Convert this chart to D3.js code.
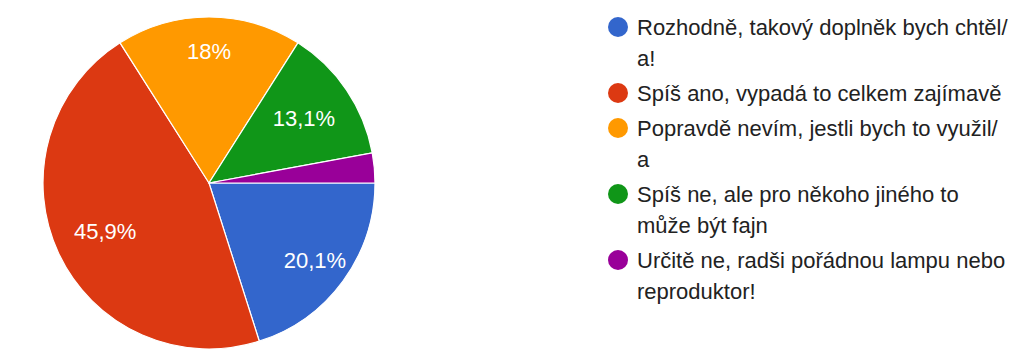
<!DOCTYPE html>
<html>
<head>
<meta charset="utf-8">
<script src="https://cdn.jsdelivr.net/npm/d3@7"></script>
<style>
  html, body { margin: 0; padding: 0; background: #fff; }
  svg { display: block; font-family: "Liberation Sans", Arial, Helvetica, sans-serif; }
</style>
</head>
<body>
<svg id="chart" width="1018" height="352"></svg>
<script>
// Answer options (line breaks follow the legend wrapping)
const categories = [
  "Rozhodně, takový doplněk bych chtěl/\na!",
  "Spíš ano, vypadá to celkem zajímavě",
  "Popravdě nevím, jestli bych to využil/\na",
  "Spíš ne, ale pro někoho jiného to\nmůže být fajn",
  "Určitě ne, radši pořádnou lampu nebo\nreproduktor!"
];
// Share of responses, in percent
const values = [20.1, 45.9, 18.0, 13.1, 2.9];
// Slice labels as printed
const valueLabels = ["20,1%", "45,9%", "18%", "13,1%", ""];
const colors = ["#3366cc", "#dc3912", "#ff9900", "#109618", "#990099"];

const data = categories.map((c, i) => ({ name: c, value: values[i], label: valueLabels[i], color: colors[i] }));

const svg = d3.select("#chart");
const cx = 209, cy = 183, radius = 166;

// Pie starts at 3 o'clock and runs clockwise
const pie = d3.pie()
  .value(d => d.value)
  .sort(null)
  .startAngle(Math.PI / 2)
  .endAngle(Math.PI / 2 + 2 * Math.PI);

const arc = d3.arc().innerRadius(0).outerRadius(radius);
const arcs = pie(data);

const g = svg.append("g").attr("transform", `translate(${cx},${cy})`);

g.selectAll("path.slice")
  .data(arcs)
  .join("path")
  .attr("class", "slice")
  .attr("d", arc)
  .attr("fill", d => d.data.color)
  .attr("stroke", "#ffffff")
  .attr("stroke-width", 1.2);

// Labels sit at roughly 0.69 of the radius; wide top slice a bit further out
const labelRadius = d => (d.endAngle - d.startAngle > 1.0 && d.endAngle - d.startAngle < 1.3 ? 0.79 : 0.69) * radius;

g.selectAll("text.value")
  .data(arcs.filter(d => d.data.label))
  .join("text")
  .attr("class", "value")
  .attr("transform", d => {
    const r = labelRadius(d);
    const la = d3.arc().innerRadius(r).outerRadius(r);
    const [x, y] = la.centroid(d);
    return `translate(${x},${y})`;
  })
  .attr("text-anchor", "middle")
  .attr("dominant-baseline", "central")
  .attr("fill", "#ffffff")
  .attr("font-size", 22)
  .text(d => d.data.label);

// Legend
const legend = svg.append("g");
const dotX = 618, textX = 637, lineH = 31, itemGap = 35;
let y = 27;
data.forEach(d => {
  const lines = d.name.split("\n");
  const item = legend.append("g");
  item.append("circle")
    .attr("cx", dotX)
    .attr("cy", y)
    .attr("r", 10)
    .attr("fill", d.color);
  lines.forEach((ln, i) => {
    item.append("text")
      .attr("x", textX)
      .attr("y", y + i * lineH)
      .attr("dominant-baseline", "central")
      .attr("font-size", 22)
      .attr("fill", "#222222")
      .text(ln);
  });
  y += (lines.length - 1) * lineH + itemGap;
});
</script>
</body>
</html>
